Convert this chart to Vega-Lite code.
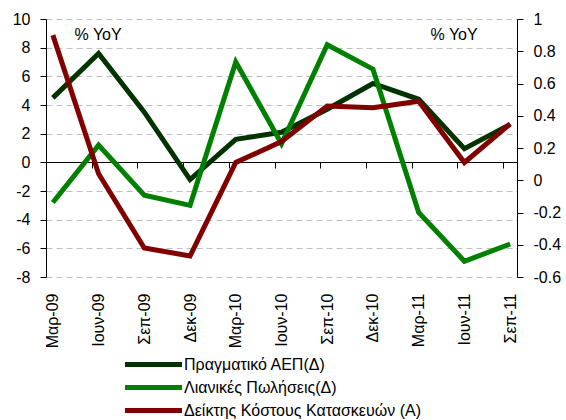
{
  "$schema": "https://vega.github.io/schema/vega-lite/v6.json",
  "autosize": "none",
  "width": 471,
  "height": 258,
  "padding": {"left": 46, "top": 19, "right": 49, "bottom": 143},
  "config": {
    "font": "Liberation Sans",
    "view": {"stroke": null},
    "axis": {"labelColor": "#000000", "domainColor": "#000000", "tickColor": "#000000", "labelFontSize": 16, "labelFont": "Liberation Sans", "titleFont": "Liberation Sans", "titleFontWeight": "normal", "titleColor": "#000000"},
    "legend": {"labelFont": "Liberation Sans"}
  },
  "data": {
    "values": [
      {"date": "Μαρ-09", "series": "Πραγματικό ΑΕΠ(Δ)", "value": 4.5},
      {"date": "Ιουν-09", "series": "Πραγματικό ΑΕΠ(Δ)", "value": 7.6},
      {"date": "Σεπ-09", "series": "Πραγματικό ΑΕΠ(Δ)", "value": 3.5},
      {"date": "Δεκ-09", "series": "Πραγματικό ΑΕΠ(Δ)", "value": -1.2},
      {"date": "Μαρ-10", "series": "Πραγματικό ΑΕΠ(Δ)", "value": 1.6},
      {"date": "Ιουν-10", "series": "Πραγματικό ΑΕΠ(Δ)", "value": 2.1},
      {"date": "Σεπ-10", "series": "Πραγματικό ΑΕΠ(Δ)", "value": 3.7},
      {"date": "Δεκ-10", "series": "Πραγματικό ΑΕΠ(Δ)", "value": 5.5},
      {"date": "Μαρ-11", "series": "Πραγματικό ΑΕΠ(Δ)", "value": 4.4},
      {"date": "Ιουν-11", "series": "Πραγματικό ΑΕΠ(Δ)", "value": 0.95},
      {"date": "Σεπ-11", "series": "Πραγματικό ΑΕΠ(Δ)", "value": 2.65},
      {"date": "Μαρ-09", "series": "Λιανικές Πωλήσεις(Δ)", "value": -2.8},
      {"date": "Ιουν-09", "series": "Λιανικές Πωλήσεις(Δ)", "value": 1.2},
      {"date": "Σεπ-09", "series": "Λιανικές Πωλήσεις(Δ)", "value": -2.3},
      {"date": "Δεκ-09", "series": "Λιανικές Πωλήσεις(Δ)", "value": -3.0},
      {"date": "Μαρ-10", "series": "Λιανικές Πωλήσεις(Δ)", "value": 7.0},
      {"date": "Ιουν-10", "series": "Λιανικές Πωλήσεις(Δ)", "value": 1.3},
      {"date": "Σεπ-10", "series": "Λιανικές Πωλήσεις(Δ)", "value": 8.2},
      {"date": "Δεκ-10", "series": "Λιανικές Πωλήσεις(Δ)", "value": 6.5},
      {"date": "Μαρ-11", "series": "Λιανικές Πωλήσεις(Δ)", "value": -3.5},
      {"date": "Ιουν-11", "series": "Λιανικές Πωλήσεις(Δ)", "value": -6.9},
      {"date": "Σεπ-11", "series": "Λιανικές Πωλήσεις(Δ)", "value": -5.7},
      {"date": "Μαρ-09", "series": "Δείκτης Κόστους Κατασκευών (A)", "value": 0.9},
      {"date": "Ιουν-09", "series": "Δείκτης Κόστους Κατασκευών (A)", "value": 0.04},
      {"date": "Σεπ-09", "series": "Δείκτης Κόστους Κατασκευών (A)", "value": -0.42},
      {"date": "Δεκ-09", "series": "Δείκτης Κόστους Κατασκευών (A)", "value": -0.47},
      {"date": "Μαρ-10", "series": "Δείκτης Κόστους Κατασκευών (A)", "value": 0.11},
      {"date": "Ιουν-10", "series": "Δείκτης Κόστους Κατασκευών (A)", "value": 0.24},
      {"date": "Σεπ-10", "series": "Δείκτης Κόστους Κατασκευών (A)", "value": 0.46},
      {"date": "Δεκ-10", "series": "Δείκτης Κόστους Κατασκευών (A)", "value": 0.45},
      {"date": "Μαρ-11", "series": "Δείκτης Κόστους Κατασκευών (A)", "value": 0.49},
      {"date": "Ιουν-11", "series": "Δείκτης Κόστους Κατασκευών (A)", "value": 0.11},
      {"date": "Σεπ-11", "series": "Δείκτης Κόστους Κατασκευών (A)", "value": 0.35}
    ]
  },
  "layer": [
    {
      "transform": [{"filter": "datum.series !== 'Δείκτης Κόστους Κατασκευών (A)'"}],
      "mark": {"type": "line", "strokeWidth": 5},
      "encoding": {
        "x": {
          "field": "date", "type": "nominal",
          "sort": ["Μαρ-09","Ιουν-09","Σεπ-09","Δεκ-09","Μαρ-10","Ιουν-10","Σεπ-10","Δεκ-10","Μαρ-11","Ιουν-11","Σεπ-11"],
          "scale": {"type": "point", "padding": 0.15},
          "axis": {"orient": "bottom", "title": null, "domain": false, "ticks": false, "labelAngle": -90, "labelPadding": 16, "labelFontSize": 16}
        },
        "y": {
          "field": "value", "type": "quantitative",
          "scale": {"domain": [-8, 10], "nice": false, "zero": false},
          "axis": {
            "orient": "left", "values": [-8,-6,-4,-2,0,2,4,6,8,10],
            "labelExpr": "replace(format(datum.value, 'd'), '\u2212', '-')",
            "tickSize": 6, "labelPadding": 10, "domain": true,
            "grid": true, "gridColor": "#c0c0c0", "gridDash": [6, 4], "gridWidth": 1,
            "title": "% YoY", "titleAngle": 0, "titleAlign": "left", "titleBaseline": "alphabetic",
            "titleX": 28, "titleY": 20, "titleFontSize": 16
          }
        },
        "color": {
          "field": "series", "type": "nominal",
          "scale": {
            "domain": ["Πραγματικό ΑΕΠ(Δ)", "Λιανικές Πωλήσεις(Δ)", "Δείκτης Κόστους Κατασκευών (A)"],
            "range": ["#003300", "#008000", "#800000"]
          },
          "legend": {
            "orient": "none", "legendX": 99, "legendY": 337, "title": null,
            "symbolType": "M-5,0H5", "symbolSize": 130, "symbolStrokeWidth": 5, "symbolFillColor": "transparent",
            "labelFontSize": 16, "labelOffset": 22, "rowPadding": 2, "labelColor": "#000000", "labelLimit": 400
          }
        }
      }
    },
    {
      "transform": [{"filter": "datum.series === 'Δείκτης Κόστους Κατασκευών (A)'"}],
      "mark": {"type": "line", "strokeWidth": 5},
      "encoding": {
        "x": {
          "field": "date", "type": "nominal",
          "sort": ["Μαρ-09","Ιουν-09","Σεπ-09","Δεκ-09","Μαρ-10","Ιουν-10","Σεπ-10","Δεκ-10","Μαρ-11","Ιουν-11","Σεπ-11"],
          "scale": {"type": "point", "padding": 0.15},
          "axis": {"orient": "bottom", "title": null, "labels": false, "domain": true, "ticks": true, "tickSize": 6, "tickOffset": -7, "offset": -115, "grid": false}
        },
        "y": {
          "field": "value", "type": "quantitative",
          "scale": {"domain": [-0.6, 1], "nice": false, "zero": false},
          "axis": {
            "orient": "right", "values": [-0.6,-0.4,-0.2,0,0.2,0.4,0.6,0.8,1],
            "labelExpr": "replace(format(datum.value, '.1~f'), '\u2212', '-')",
            "tickSize": 6, "labelPadding": 10, "domain": true, "grid": false,
            "title": "% YoY", "titleAngle": 0, "titleAlign": "left", "titleBaseline": "alphabetic",
            "titleX": -87, "titleY": 20, "titleFontSize": 16
          }
        },
        "color": {
          "field": "series", "type": "nominal",
          "scale": {
            "domain": ["Πραγματικό ΑΕΠ(Δ)", "Λιανικές Πωλήσεις(Δ)", "Δείκτης Κόστους Κατασκευών (A)"],
            "range": ["#003300", "#008000", "#800000"]
          }
        }
      }
    }
  ],
  "resolve": {"scale": {"y": "independent"}, "axis": {"x": "independent", "y": "independent"}}
}
